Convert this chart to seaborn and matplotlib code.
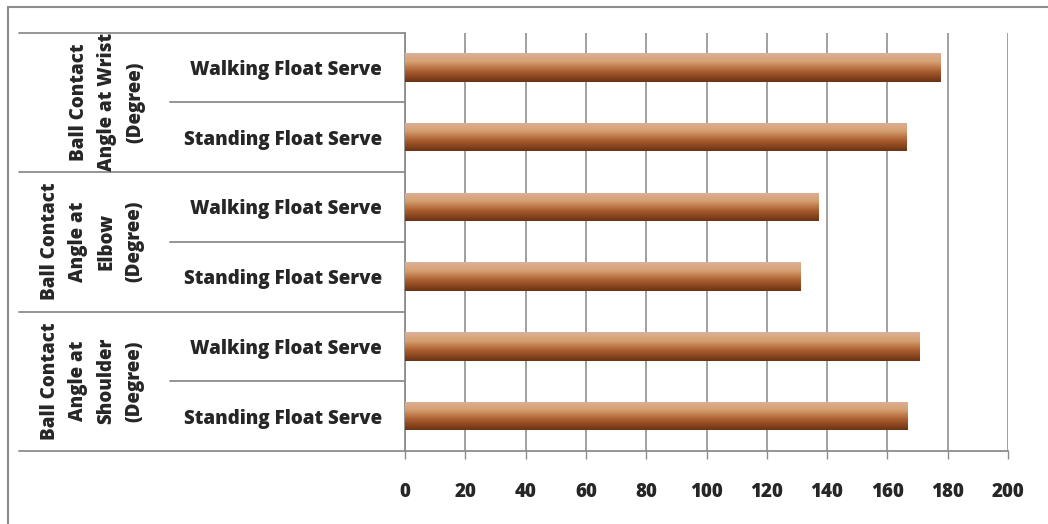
import numpy as np
import pandas as pd
import matplotlib
matplotlib.use("Agg")
import matplotlib.pyplot as plt
import seaborn as sns
from matplotlib.colors import LinearSegmentedColormap
from matplotlib.lines import Line2D
import matplotlib.transforms as mtransforms

# ---- data ----
groups = ["Ball Contact\nAngle at Wrist\n(Degree)",
          "Ball Contact\nAngle at\nElbow\n(Degree)",
          "Ball Contact\nAngle at\nShoulder\n(Degree)"]
serves = ["Walking Float Serve", "Standing Float Serve"]
wrist = [177.5, 166.5]
elbow = [137.0, 131.3]
shoulder = [170.5, 166.8]
xticks = [0, 20, 40, 60, 80, 100, 120, 140, 160, 180, 200]

rows, labels, vals = [], [], []
for g, v in zip(groups, [wrist, elbow, shoulder]):
    for s, val in zip(serves, v):
        rows.append(g + "|" + s)
        labels.append(s)
        vals.append(val)
df = pd.DataFrame({"row": rows, "value": vals})

sns.set_theme(style="white")
plt.rcParams["font.family"] = ["Open Sans", "DejaVu Sans"]
plt.rcParams["font.weight"] = "bold"

FS = 13.5
WT = 800
fig = plt.figure(figsize=(10.48, 5.24), dpi=100)
L, R, T, B = 405, 1008, 32.5, 451
W, H = 1048, 524
ax = fig.add_axes([L / W, 1 - B / H, (R - L) / W, (B - T) / H])

sns.barplot(data=df, x="value", y="row", orient="h", ax=ax, width=0.41,
            color="#b06a3a", linewidth=0, zorder=3)

ax.set_xlim(0, 200)
ax.set_ylim(len(rows) - 0.5, -0.5)
ax.set_xticks(xticks)
ax.set_xticklabels([str(t) for t in xticks], fontsize=FS, fontweight=WT)
ax.set_yticks(range(len(rows)))
ax.set_yticklabels(labels, fontsize=FS, fontweight=WT)
ax.set_xlabel("")
ax.set_ylabel("")
ax.tick_params(axis="x", length=6, color="#8c8c8c", width=1, pad=16, direction="out", bottom=True)
ax.tick_params(axis="y", length=0, pad=16.5)
ax.xaxis.grid(True, color="#999999", linewidth=1.3, zorder=0)
ax.set_axisbelow(True)
for s in ["top", "right"]:
    ax.spines[s].set_visible(False)
for s in ["left", "bottom"]:
    ax.spines[s].set_color("#8c8c8c")
    ax.spines[s].set_linewidth(1.3)

# gradient fill on bars
cmap = LinearSegmentedColormap.from_list(
    "bar", [(0.0, "#ddb09a"), (0.3, "#d6a070"), (0.65, "#a85a2c"), (1.0, "#6a3214")])
grad = np.linspace(0, 1, 256).reshape(-1, 1)
for p in list(ax.patches):
    x0, y0 = p.get_x(), p.get_y()
    w, h = p.get_width(), p.get_height()
    im = ax.imshow(grad, cmap=cmap, aspect="auto", extent=[x0, x0 + w, y0 + h, y0],
                   origin="upper", zorder=4)
    im.set_clip_path(p)
ax.set_xlim(0, 200)
ax.set_ylim(len(rows) - 0.5, -0.5)

# table lines in the label area
trans = mtransforms.blended_transform_factory(fig.transFigure, ax.transData)
for i in range(len(rows) + 1):
    y = i - 0.5
    x_start = 19 / W if i % 2 == 0 else 170 / W
    ax.add_line(Line2D([x_start, L / W], [y, y], transform=trans, color="#8c8c8c",
                       linewidth=1.3, clip_on=False))

# group labels
gx = [107, 92, 92]
for k, g in enumerate(groups):
    yc = 2 * k + 0.5
    ax.text(gx[k] / W, yc, g, transform=trans, rotation=90, ha="center", va="center",
            multialignment="center", fontsize=FS, fontweight=WT, linespacing=1.55)

# outer border (left and top)
fig.add_artist(Line2D([7.5 / W, 7.5 / W], [0, 1 - 7 / H], transform=fig.transFigure,
                      color="#8c8c8c", linewidth=1.5))
fig.add_artist(Line2D([7.5 / W, 1], [1 - 7 / H, 1 - 7 / H], transform=fig.transFigure,
                      color="#8c8c8c", linewidth=1.5))

fig.savefig("out.png", dpi=100)
